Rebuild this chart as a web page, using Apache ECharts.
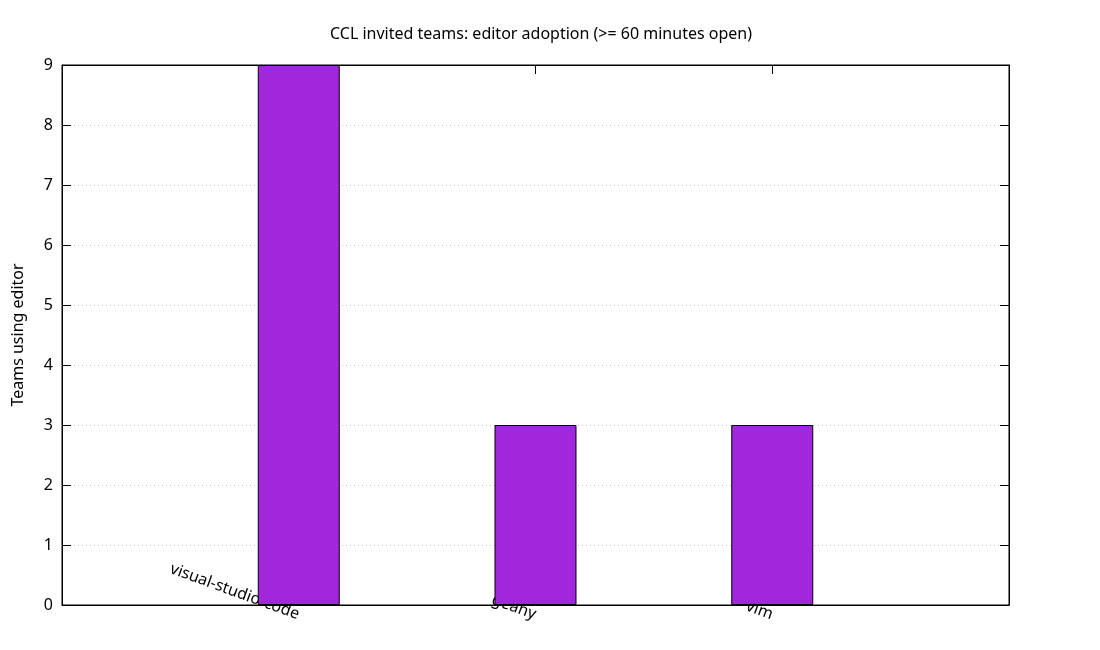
<!DOCTYPE html>
<html>
<head>
<meta charset="utf-8">
<script src="https://cdn.jsdelivr.net/npm/echarts@6/dist/echarts.min.js"></script>
<style>
html,body{margin:0;padding:0;background:#fff;}
#chart{width:1100px;height:650px;}
</style>
</head>
<body>
<div id="chart"></div>
<script>
const categories = ['visual-studio-code', 'geany', 'vim'];
const teams = [9, 3, 3];
const yTicks = [0, 1, 2, 3, 4, 5, 6, 7, 8, 9];
const titleText = 'CCL invited teams: editor adoption (>= 60 minutes open)';
const yName = 'Teams using editor';

const FONT = 'Noto Sans';
const FS = 16;
const chart = echarts.init(document.getElementById('chart'), null, {renderer: 'canvas'});
const catIdx = categories.map((c, i) => i);

const option = {
  animation: false,
  backgroundColor: '#fff',
  title: {
    text: titleText,
    left: 536, top: 21, textAlign: 'center',
    textStyle: {fontFamily: FONT, fontSize: FS, fontWeight: 'normal', color: '#000'}
  },
  grid: {left: 62, right: 91, top: 65, bottom: 45, outerBoundsMode: 'none', containLabel: false,
    show: true, borderColor: '#000', borderWidth: 1, backgroundColor: 'transparent'},
  xAxis: [{
    type: 'value', min: -1, max: categories.length, interval: 1, position: 'bottom',
    axisLine: {show: true, onZero: false, lineStyle: {color: '#000', width: 1}},
    axisTick: {show: false},
    axisLabel: {
      show: true, customValues: catIdx, rotate: -20, align: 'right', verticalAlign: 'middle', margin: 10,
      fontFamily: FONT, fontSize: FS, color: '#000',
      formatter: v => categories[v] || ''
    },
    splitLine: {show: false}
  }, {
    type: 'value', min: -1, max: categories.length, interval: 1, position: 'top',
    axisLine: {show: true, onZero: false, lineStyle: {color: '#000', width: 1}},
    axisTick: {show: true, inside: true, length: 9, lineStyle: {color: '#000'}},
    axisLabel: {show: false},
    splitLine: {show: false}
  }],
  yAxis: [{
    type: 'value', min: yTicks[0], max: yTicks[yTicks.length - 1], interval: 1, position: 'left',
    name: yName, nameLocation: 'middle', nameRotate: 90, nameGap: 36,
    nameTextStyle: {fontFamily: FONT, fontSize: FS, color: '#000'},
    axisLine: {show: true, onZero: false, lineStyle: {color: '#000', width: 1}},
    axisTick: {show: true, inside: true, length: 9, lineStyle: {color: '#000'}},
    axisLabel: {fontFamily: FONT, fontSize: FS, color: '#000', margin: 9},
    splitLine: {show: true, lineStyle: {color: '#c0c0c0', width: 1, type: [1, 3]}}
  }, {
    type: 'value', min: yTicks[0], max: yTicks[yTicks.length - 1], interval: 1, position: 'right',
    axisLine: {show: true, onZero: false, lineStyle: {color: '#000', width: 1}},
    axisTick: {show: true, inside: true, length: 9, lineStyle: {color: '#000'}},
    axisLabel: {show: false},
    splitLine: {show: false}
  }],
  series: [{
    type: 'bar',
    xAxisIndex: 0, yAxisIndex: 0,
    barWidth: 82,
    data: teams.map((v, i) => [i, v]),
    itemStyle: {color: '#a226db', borderColor: '#000', borderWidth: 1},
    z: 5
  }]
};
chart.setOption(option);
</script>
</body>
</html>
